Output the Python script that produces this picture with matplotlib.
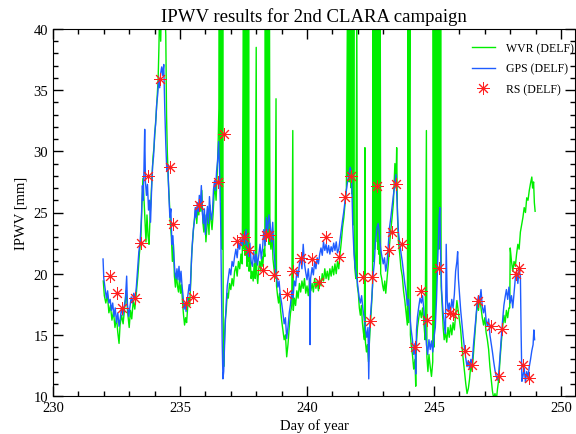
import matplotlib
matplotlib.use('Agg')
import matplotlib.pyplot as plt
from matplotlib.ticker import MultipleLocator

plt.rcParams['font.family'] = ['Liberation Serif', 'DejaVu Serif']

# GPS (DELF), day of year / IPWV [mm]
gps_day = [231.97, 232.00, 232.05, 232.10, 232.15, 232.20, 232.25, 232.30, 232.35, 232.40,
           232.45, 232.50, 232.55, 232.60, 232.65, 232.70, 232.75, 232.80, 232.85, 232.90,
           232.93, 232.98, 233.03, 233.08, 233.13, 233.18, 233.23, 233.28, 233.33, 233.38,
           233.43, 233.48, 233.52, 233.55, 233.58, 233.61, 233.64, 233.68, 233.72, 233.76,
           233.80, 233.84, 233.88, 233.92, 233.96, 234.00, 234.04, 234.08, 234.12, 234.16,
           234.20, 234.24, 234.28, 234.32, 234.36, 234.40, 234.44, 234.48, 234.52, 234.56,
           234.60, 234.64, 234.68, 234.72, 234.76, 234.80, 234.84, 234.88, 234.92, 234.96,
           235.00, 235.04, 235.08, 235.12, 235.16, 235.20, 235.24, 235.28, 235.32, 235.36,
           235.40, 235.44, 235.48, 235.52, 235.56, 235.60, 235.64, 235.68, 235.72, 235.76,
           235.80, 235.84, 235.88, 235.92, 235.96, 236.00, 236.04, 236.08, 236.12, 236.16,
           236.20, 236.24, 236.28, 236.32, 236.36, 236.40, 236.44, 236.48, 236.52, 236.56,
           236.60, 236.63, 236.66, 236.69, 236.72, 236.75, 236.78, 236.82, 236.86, 236.90,
           236.95, 237.00, 237.05, 237.10, 237.15, 237.20, 237.25, 237.30, 237.35, 237.40,
           237.45, 237.50, 237.55, 237.60, 237.65, 237.70, 237.75, 237.80, 237.85, 237.90,
           237.95, 238.00, 238.05, 238.10, 238.15, 238.20, 238.25, 238.30, 238.35, 238.40,
           238.45, 238.50, 238.55, 238.60, 238.65, 238.70, 238.75, 238.80, 238.85, 238.90,
           238.95, 239.00, 239.05, 239.10, 239.15, 239.20, 239.25, 239.30, 239.35, 239.40,
           239.45, 239.50, 239.55, 239.60, 239.65, 239.70, 239.75, 239.80, 239.85, 239.90,
           239.95, 240.00, 240.05, 240.10, 240.12, 240.14, 240.20, 240.25, 240.30, 240.35,
           240.40, 240.45, 240.50, 240.55, 240.60, 240.65, 240.70, 240.75, 240.80, 240.85,
           240.90, 240.95, 241.00, 241.05, 241.10, 241.15, 241.20, 241.25, 241.30, 241.35,
           241.40, 241.45, 241.50, 241.55, 241.60, 241.65, 241.70, 241.75, 241.80, 241.85,
           241.90, 241.95, 242.00, 242.05, 242.10, 242.15, 242.20, 242.25, 242.30, 242.35,
           242.40, 242.43, 242.46, 242.50, 242.55, 242.60, 242.65, 242.70, 242.75, 242.80,
           242.85, 242.90, 242.95, 243.00, 243.05, 243.10, 243.15, 243.20, 243.25, 243.30,
           243.35, 243.40, 243.45, 243.50, 243.55, 243.60, 243.65, 243.70, 243.75, 243.80,
           243.85, 243.90, 243.95, 244.00, 244.05, 244.10, 244.15, 244.20, 244.25, 244.28,
           244.31, 244.35, 244.40, 244.45, 244.50, 244.55, 244.60, 244.65, 244.70, 244.75,
           244.80, 244.85, 244.90, 244.95, 245.00, 245.05, 245.10, 245.15, 245.20, 245.23,
           245.26, 245.30, 245.35, 245.40, 245.45, 245.48, 245.52, 245.56, 245.60, 245.65,
           245.70, 245.75, 245.80, 245.85, 245.90, 245.93, 245.96, 246.00, 246.05, 246.10,
           246.15, 246.20, 246.25, 246.30, 246.35, 246.40, 246.45, 246.50, 246.55, 246.60,
           246.65, 246.70, 246.75, 246.80, 246.85, 246.90, 246.95, 247.00, 247.05, 247.10,
           247.15, 247.20, 247.25, 247.30, 247.35, 247.40, 247.45, 247.50, 247.55, 247.60,
           247.65, 247.70, 247.75, 247.80, 247.85, 247.90, 247.95, 248.00, 248.05, 248.10,
           248.15, 248.20, 248.25, 248.30, 248.35, 248.40, 248.43, 248.46, 248.50, 248.55,
           248.60, 248.65, 248.70, 248.75, 248.80, 248.85, 248.90, 248.93, 248.96]
gps_val = [21.2, 19.6, 18.8, 18.0, 18.6, 17.6, 17.9, 17.0, 17.6, 16.5,
           17.2, 16.0, 16.8, 15.7, 16.4, 17.2, 16.6, 17.3, 17.9, 19.8,
           17.5, 16.5, 17.3, 18.1, 17.6, 18.4, 17.9, 18.9, 20.3, 21.8,
           22.6, 24.5, 27.2, 26.0, 28.5, 31.8, 27.5, 26.4, 27.3, 25.2,
           26.0, 24.2, 26.8, 28.8, 29.6, 31.4, 32.2, 33.8, 34.6, 35.8,
           35.2, 36.4, 36.9, 36.2, 37.1, 33.5, 30.6, 28.4, 28.9, 26.5,
           24.6, 25.3, 22.4, 23.1, 21.4, 20.1, 19.6, 20.4, 19.5, 20.6,
           19.3, 20.2, 19.0, 18.2, 17.1, 17.6, 16.9, 17.8, 18.4, 19.1,
           18.6, 20.6, 22.3, 23.5, 24.2, 25.4, 24.6, 25.8, 25.1, 26.4,
           25.6, 27.2, 25.0, 24.1, 25.3, 23.2, 24.6, 25.5, 24.1, 26.3,
           25.0, 24.4, 25.2, 26.9, 27.6, 26.8, 28.4, 29.2, 30.8, 28.2,
           24.5, 19.0, 14.5, 11.4, 12.0, 14.0, 15.8, 17.6, 19.0, 19.6,
           20.4, 19.9, 21.0, 20.6, 21.4, 22.0, 21.3, 22.5, 22.0, 22.8,
           22.3, 23.2, 22.4, 23.6, 22.0, 21.4, 22.5, 21.0, 20.6, 21.8,
           20.9, 21.6, 20.7, 21.5, 22.4, 21.2, 22.1, 23.6, 22.3, 24.6,
           23.5, 24.8, 24.0, 22.6, 24.2, 21.8, 20.6, 19.8, 18.9, 19.4,
           18.2, 17.6, 16.8, 15.9, 16.4, 14.7, 15.6, 16.8, 17.5, 18.6,
           18.0, 19.4, 19.0, 20.3, 19.7, 20.8, 21.2, 20.4, 22.4, 20.8,
           20.1, 19.5, 20.4, 19.2, 14.2, 19.6, 20.5, 19.9, 21.0, 20.4,
           21.3, 20.8, 21.6, 22.1, 21.5, 22.6, 21.9, 22.4, 21.7, 22.3,
           21.6, 22.2, 21.8, 22.5, 21.9, 22.6, 21.7, 22.0, 22.8, 23.6,
           24.4, 25.1, 26.0, 26.8, 27.6, 28.2, 28.7, 28.3, 24.0, 21.6,
           20.5, 19.8, 19.0, 18.1, 17.6, 18.2, 17.1, 16.4, 15.5, 14.8,
           15.6, 11.4, 15.2, 16.6, 18.0, 19.8, 20.9, 22.8, 23.7, 24.1,
           23.2, 22.0, 21.4, 20.8, 21.3, 20.2, 20.9, 22.4, 23.8, 24.6,
           25.5, 26.4, 27.2, 28.1, 25.6, 23.4, 22.5, 21.7, 21.0, 20.1,
           19.2, 18.5, 17.4, 17.9, 16.5, 15.4, 14.6, 13.4, 14.3, 11.8,
           15.4, 16.5, 17.3, 18.0, 17.6, 18.2, 17.0, 15.8, 14.2, 13.4,
           14.6, 13.8, 14.5, 13.6, 14.8, 15.6, 18.0, 21.4, 24.6, 25.4,
           21.5, 18.6, 17.0, 16.0, 15.1, 22.4, 17.8, 16.9, 17.6, 16.8,
           17.9, 17.2, 18.3, 20.2, 21.0, 21.8, 19.6, 18.4, 17.0, 15.9,
           14.8, 13.9, 13.1, 12.4, 12.9, 12.2, 13.0, 12.6, 14.1, 15.3,
           16.4, 17.6, 18.2, 17.8, 18.7, 17.3, 16.8, 17.4, 16.2, 15.7,
           16.3, 15.0, 14.3, 13.6, 12.8, 12.1, 11.6, 11.3, 11.9, 13.4,
           14.8, 16.2, 17.4, 18.1, 18.7, 17.9, 18.9, 17.6, 18.2, 17.2,
           18.4, 19.6, 20.1, 19.2, 20.4, 19.8, 15.0, 11.2, 11.6, 12.3,
           11.1, 12.0, 11.5, 12.4, 13.0, 13.7, 14.2, 15.4, 14.6]

# WVR (DELF), values above 40 are the spikes running off the top
wvr_day = [231.98, 232.02, 232.08, 232.14, 232.20, 232.26, 232.32, 232.38, 232.44, 232.50,
           232.55, 232.60, 232.64, 232.70, 232.76, 232.82, 232.88, 232.94, 233.00, 233.05,
           233.10, 233.16, 233.22, 233.28, 233.34, 233.40, 233.46, 233.50, 233.54, 233.58,
           233.62, 233.66, 233.70, 233.74, 233.78, 233.82, 233.86, 233.90, 233.94, 233.98,
           234.02, 234.06, 234.10, 234.14, 234.17, 234.20, 234.24, 234.28, 234.32, 234.36,
           234.40, 234.44, 234.47, 234.50, 234.54, 234.58, 234.62, 234.66, 234.70, 234.74,
           234.78, 234.82, 234.86, 234.90, 234.94, 234.98, 235.02, 235.06, 235.10, 235.14,
           235.18, 235.22, 235.26, 235.30, 235.34, 235.38, 235.42, 235.46, 235.50, 235.54,
           235.58, 235.62, 235.66, 235.70, 235.74, 235.78, 235.82, 235.86, 235.90, 235.94,
           235.98, 236.02, 236.06, 236.10, 236.14, 236.18, 236.22, 236.26, 236.30, 236.34,
           236.38, 236.42, 236.46, 236.50, 236.53, 236.55, 236.57, 236.59, 236.61, 236.63,
           236.66, 236.68, 236.70, 236.72, 236.75, 236.78, 236.82, 236.86, 236.90, 236.95,
           237.00, 237.05, 237.10, 237.15, 237.20, 237.25, 237.30, 237.35, 237.40, 237.45,
           237.50, 237.52, 237.54, 237.56, 237.58, 237.60, 237.62, 237.64, 237.66, 237.68,
           237.70, 237.72, 237.76, 237.80, 237.84, 237.88, 237.92, 237.96, 238.00, 238.02,
           238.06, 238.10, 238.14, 238.18, 238.22, 238.26, 238.30, 238.34, 238.36, 238.38,
           238.40, 238.42, 238.44, 238.46, 238.48, 238.50, 238.52, 238.54, 238.58, 238.62,
           238.66, 238.70, 238.74, 238.78, 238.80, 238.84, 238.88, 238.92, 238.96, 239.00,
           239.05, 239.10, 239.15, 239.20, 239.25, 239.30, 239.35, 239.40, 239.44, 239.46,
           239.50, 239.55, 239.60, 239.65, 239.70, 239.75, 239.80, 239.85, 239.90, 239.95,
           240.00, 240.05, 240.10, 240.15, 240.20, 240.25, 240.30, 240.35, 240.40, 240.45,
           240.50, 240.55, 240.60, 240.65, 240.70, 240.75, 240.80, 240.85, 240.90, 240.95,
           241.00, 241.05, 241.10, 241.15, 241.20, 241.25, 241.30, 241.35, 241.40, 241.45,
           241.50, 241.55, 241.60, 241.62, 241.64, 241.66, 241.68, 241.70, 241.72, 241.74,
           241.76, 241.78, 241.80, 241.82, 241.84, 241.86, 241.88, 241.92, 241.96, 241.98,
           242.02, 242.06, 242.10, 242.14, 242.18, 242.22, 242.26, 242.28, 242.30, 242.34,
           242.38, 242.42, 242.46, 242.50, 242.54, 242.58, 242.60, 242.62, 242.64, 242.66,
           242.68, 242.70, 242.72, 242.74, 242.76, 242.78, 242.80, 242.82, 242.84, 242.86,
           242.88, 242.90, 242.94, 242.98, 243.02, 243.06, 243.10, 243.15, 243.20, 243.25,
           243.30, 243.35, 243.40, 243.46, 243.50, 243.53, 243.56, 243.60, 243.65, 243.70,
           243.75, 243.80, 243.85, 243.90, 243.95, 243.98, 244.00, 244.05, 244.07, 244.10,
           244.15, 244.20, 244.25, 244.28, 244.31, 244.35, 244.40, 244.45, 244.50, 244.55,
           244.60, 244.65, 244.70, 244.72, 244.76, 244.80, 244.85, 244.90, 244.95, 244.97,
           245.00, 245.02, 245.04, 245.06, 245.08, 245.10, 245.12, 245.14, 245.16, 245.18,
           245.20, 245.22, 245.24, 245.26, 245.28, 245.32, 245.36, 245.40, 245.45, 245.50,
           245.55, 245.60, 245.65, 245.70, 245.75, 245.80, 245.85, 245.90, 245.95, 246.00,
           246.05, 246.10, 246.15, 246.20, 246.25, 246.30, 246.35, 246.40, 246.45, 246.50,
           246.55, 246.60, 246.65, 246.70, 246.75, 246.80, 246.85, 246.90, 246.95, 247.00,
           247.05, 247.10, 247.15, 247.20, 247.25, 247.30, 247.35, 247.40, 247.45, 247.50,
           247.55, 247.60, 247.65, 247.70, 247.75, 247.80, 247.85, 247.90, 247.95, 247.98,
           248.00, 248.05, 248.10, 248.15, 248.20, 248.25, 248.30, 248.35, 248.40, 248.45,
           248.50, 248.55, 248.60, 248.65, 248.70, 248.75, 248.80, 248.85, 248.88, 248.92,
           248.95, 248.98]
wvr_val = [19.4, 18.2, 17.6, 18.3, 16.8, 17.4, 16.2, 16.9, 15.6, 16.4,
           15.2, 14.3, 15.8, 16.6, 15.9, 17.2, 18.6, 16.8, 15.6, 17.0,
           16.3, 17.8, 17.1, 18.4, 19.8, 21.6, 22.9, 25.6, 27.8, 26.2,
           24.4, 22.6, 24.8, 23.1, 22.4, 24.6, 26.2, 28.0, 29.6, 30.4,
           31.8, 33.0, 34.4, 36.0, 38.5, 42.0, 39.0, 43.0, 40.5, 44.0,
           42.0, 39.5, 33.0, 30.0, 27.6, 26.0, 24.1, 23.0, 21.0, 22.4,
           19.8, 18.9, 20.0, 19.0, 18.5, 19.6, 18.4, 19.1, 17.6, 16.6,
           15.8, 16.4, 16.0, 17.2, 18.0, 17.4, 19.2, 21.6, 22.8, 23.9,
           24.6, 25.4, 24.1, 25.6, 24.8, 26.2, 25.1, 26.8, 24.2, 23.4,
           24.8, 22.6, 23.8, 25.0, 23.2, 25.6, 24.4, 23.6, 24.8, 26.4,
           27.2, 26.0, 28.0, 30.5, 33.5, 45.0, 28.0, 45.0, 26.0, 45.0,
           22.0, 45.0, 16.0, 12.4, 14.6, 16.2, 17.0, 18.4, 18.0, 19.2,
           18.7, 19.6, 19.0, 20.2, 20.6, 19.8, 21.0, 20.4, 21.6, 20.8,
           45.0, 22.0, 45.0, 21.5, 45.0, 22.4, 45.0, 20.6, 45.0, 21.0,
           45.0, 20.2, 21.4, 19.6, 20.2, 19.4, 20.8, 19.6, 38.5, 20.0,
           19.2, 20.4, 21.0, 20.2, 21.4, 20.6, 22.0, 21.4, 45.0, 22.8,
           45.0, 23.0, 45.0, 23.6, 45.0, 22.4, 45.0, 22.8, 22.0, 23.4,
           21.2, 20.4, 19.6, 34.3, 19.0, 18.2, 17.6, 18.4, 17.0, 16.2,
           15.4, 14.6, 15.0, 13.2, 14.2, 15.6, 16.8, 17.4, 31.7, 17.0,
           18.0, 17.4, 18.6, 18.0, 19.2, 18.5, 19.4, 18.8, 19.6, 18.4,
           19.0, 18.2, 19.4, 18.6, 19.2, 18.5, 19.6, 18.8, 19.4, 18.6,
           19.6, 19.0, 20.0, 19.4, 20.4, 19.6, 20.2, 19.5, 20.4, 19.8,
           20.6, 19.9, 20.8, 20.0, 21.0, 20.4, 21.6, 22.6, 23.8, 24.6,
           25.8, 27.0, 45.0, 28.0, 45.0, 27.5, 45.0, 28.2, 45.0, 27.0,
           45.0, 26.5, 45.0, 24.0, 45.0, 22.0, 20.5, 19.6, 42.0, 19.0,
           18.4, 17.2, 16.6, 17.4, 16.0, 15.2, 14.6, 30.3, 14.4, 13.6,
           14.2, 12.8, 14.6, 16.0, 17.4, 19.0, 45.0, 21.0, 45.0, 22.0,
           45.0, 22.6, 45.0, 23.4, 45.0, 22.0, 45.0, 21.6, 45.0, 20.8,
           45.0, 20.0, 19.6, 19.0, 18.6, 19.4, 18.4, 19.6, 20.8, 22.4,
           23.6, 24.6, 25.8, 29.0, 27.0, 30.3, 24.8, 22.6, 21.6, 20.4,
           19.8, 18.6, 17.8, 16.8, 15.8, 42.0, 16.0, 45.0, 15.0, 14.2,
           13.4, 12.2, 13.0, 10.8, 14.4, 15.6, 16.4, 17.0, 16.4, 17.2,
           16.0, 14.6, 31.7, 13.2, 12.0, 13.4, 12.4, 11.6, 12.8, 45.0,
           14.0, 45.0, 16.0, 45.0, 18.0, 45.0, 20.0, 45.0, 22.0, 45.0,
           24.0, 45.0, 22.0, 45.0, 19.0, 17.4, 15.6, 14.6, 15.2, 14.4,
           15.6, 14.8, 15.8, 15.0, 16.0, 15.4, 16.6, 17.8, 17.0, 16.2,
           15.4, 14.0, 13.0, 12.0, 11.0, 10.2, 10.6, 11.4, 12.6, 12.0,
           13.4, 14.8, 16.2, 17.6, 17.0, 18.0, 17.2, 16.4, 15.8, 16.4,
           15.2, 14.6, 13.8, 12.4, 11.4, 10.4, 9.8, 10.2, 9.6, 10.6,
           11.4, 13.0, 14.4, 15.6, 16.6, 16.0, 17.0, 16.4, 17.2, 17.2,
           22.1, 21.0, 20.2, 21.0, 20.6, 21.6, 22.4, 22.0, 23.4, 24.0,
           24.6, 25.4, 25.0, 26.2, 26.0, 26.8, 27.4, 27.9, 27.0, 27.5,
           25.8, 25.1]

# RS (DELF) radiosonde launches
rs_day = [232.24, 232.50, 232.72, 233.23, 233.46, 233.74, 234.21, 234.60, 234.72, 235.24,
          235.50, 235.75, 236.48, 236.74, 237.23, 237.52, 237.73, 238.26, 238.39, 238.52,
          238.70, 239.22, 239.46, 239.75, 240.21, 240.48, 240.75, 241.26, 241.50, 241.72,
          242.22, 242.48, 242.55, 242.74, 243.24, 243.33, 243.50, 243.73, 244.25, 244.48,
          244.71, 245.21, 245.63, 245.76, 246.22, 246.48, 246.75, 247.23, 247.57, 247.69,
          248.23, 248.36, 248.52, 248.75]
rs_val = [19.8, 18.4, 17.2, 18.0, 22.5, 28.0, 35.9, 28.7, 24.1, 17.6,
          18.1, 25.6, 27.5, 31.4, 22.7, 23.0, 21.9, 20.3, 23.2, 23.2,
          19.9, 18.3, 20.2, 21.3, 21.2, 19.3, 23.0, 21.4, 26.3, 28.0,
          19.7, 16.1, 19.7, 27.2, 21.9, 23.4, 27.3, 22.4, 14.0, 18.6,
          16.2, 20.5, 16.8, 16.7, 13.7, 12.5, 17.8, 15.7, 11.6, 15.5,
          20.0, 20.5, 12.5, 11.5]

fig = plt.figure(figsize=(5.76, 4.35), dpi=100)
ax = fig.add_axes([53 / 576, 1 - 397 / 435, 522 / 576, 367 / 435])

ax.plot(wvr_day, wvr_val, color='#00ee00', linewidth=1.0, label='WVR (DELF)')
ax.plot(gps_day, gps_val, color='#1f5cff', linewidth=1.0, label='GPS (DELF)')
ax.plot(rs_day, rs_val, linestyle='none', marker=(8, 2, 0), markersize=9,
        markeredgewidth=0.7, color='#ff2020', label='RS (DELF)')

ax.set_xlim(230, 250.55)
ax.set_ylim(10, 40)
ax.xaxis.set_major_locator(MultipleLocator(5))
ax.xaxis.set_minor_locator(MultipleLocator(1))
ax.yaxis.set_major_locator(MultipleLocator(5))
ax.yaxis.set_minor_locator(MultipleLocator(1))
ax.tick_params(which='both', direction='in', top=True, right=True, labelsize=10.5)
ax.tick_params(which='major', length=7, width=1)
ax.tick_params(which='minor', length=3.5, width=1)

ax.set_title('IPWV results for 2nd CLARA campaign', fontsize=13.5, pad=6)
ax.set_xlabel('Day of year', fontsize=10.5, labelpad=3)
ax.set_ylabel('IPWV [mm]', fontsize=10.5, labelpad=4)

ax.legend(loc='upper left', bbox_to_anchor=(0.802, 0.965), frameon=False,
          fontsize=8.5, handlelength=2.0, handletextpad=0.9, labelspacing=0.75,
          borderpad=0, borderaxespad=0, numpoints=1)

fig.savefig('out.png', dpi=100)
